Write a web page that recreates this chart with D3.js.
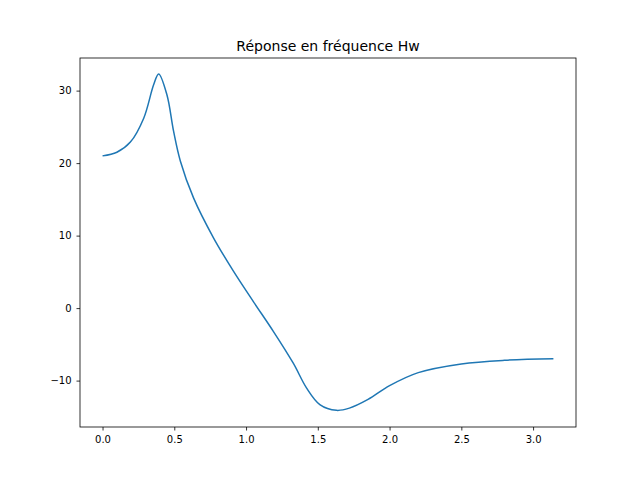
<!DOCTYPE html>
<html>
<head>
<meta charset="utf-8">
<script src="https://cdn.jsdelivr.net/npm/d3@7"></script>
<style>
  body { margin: 0; background: #fff; }
  text { font-family: "DejaVu Sans", sans-serif; }
</style>
</head>
<body>
<script>
// frequency (rad/sample) and gain
var freq = [0, 0.1, 0.194, 0.287, 0.356, 0.391, 0.449, 0.495, 0.542, 0.634, 0.773, 0.912, 1.051, 1.19, 1.329, 1.421, 1.514, 1.63, 1.72, 1.85, 2.0, 2.2, 2.5, 2.8, 3.1416];
var gain = [21.0, 21.5, 22.9, 26.2, 30.8, 32.3, 29.4, 24.4, 20.3, 15.2, 9.7, 5.1, 0.9, -3.2, -7.6, -11.0, -13.3, -14.1, -13.8, -12.6, -10.7, -8.9, -7.7, -7.2, -7.0];
var xticks = [0, 0.5, 1, 1.5, 2, 2.5, 3];
var yticks = [-10, 0, 10, 20, 30];

var W = 640, H = 480;
var m = {left: 80, right: 576, top: 58, bottom: 427};

var svg = d3.select("body").append("svg")
    .attr("width", W).attr("height", H);

var x = d3.scaleLinear().domain([-0.157, 3.299]).range([m.left, m.right]);
var y = d3.scaleLinear().domain([-16.4, 34.5]).range([m.bottom, m.top]);

var xa = svg.append("g")
    .attr("transform", "translate(0," + m.bottom + ")")
    .call(d3.axisBottom(x).tickValues(xticks).tickFormat(d3.format(".1f")).tickSizeOuter(0).tickSize(3.5).tickPadding(5));
var ya = svg.append("g")
    .attr("transform", "translate(" + m.left + ",0)")
    .call(d3.axisLeft(y).tickValues(yticks).tickFormat(d3.format("d")).tickSizeOuter(0).tickSize(3.5).tickPadding(5));
[xa, ya].forEach(function(a) {
  a.select(".domain").remove();
  a.selectAll("text").attr("font-size", 10).attr("fill", "#000").style("font-family", "DejaVu Sans");
  a.selectAll("line").attr("stroke", "#000").attr("stroke-width", 0.8);
});

svg.append("rect")
    .attr("x", m.left).attr("y", m.top)
    .attr("width", m.right - m.left).attr("height", m.bottom - m.top)
    .attr("fill", "none").attr("stroke", "#000").attr("stroke-width", 0.8);

var line = d3.line()
    .x(function(d, i) { return x(freq[i]); })
    .y(function(d) { return y(d); })
    .curve(d3.curveCatmullRom.alpha(0.5));

svg.append("path")
    .datum(gain)
    .attr("d", line)
    .attr("fill", "none")
    .attr("stroke", "#1f77b4")
    .attr("stroke-width", 1.5);

svg.append("text")
    .attr("x", (m.left + m.right) / 2).attr("y", m.top - 7)
    .attr("text-anchor", "middle")
    .attr("font-size", 14)
    .text("Réponse en fréquence Hw");
</script>
</body>
</html>
